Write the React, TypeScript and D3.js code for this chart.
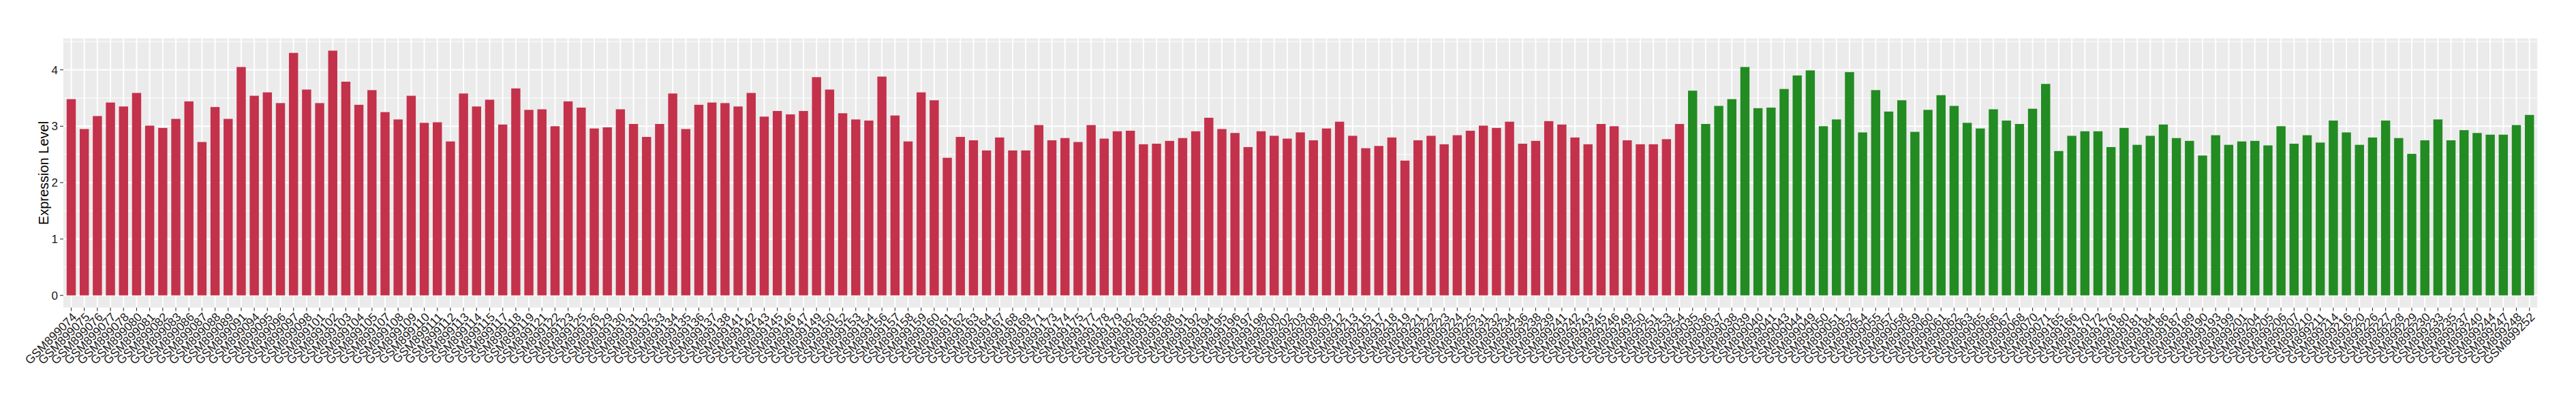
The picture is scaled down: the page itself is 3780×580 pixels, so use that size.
import React from "react";
import * as d3 from "d3";

const redSamples = [
  "GSM899074","GSM899075","GSM899076","GSM899077","GSM899078","GSM899080","GSM899081","GSM899082","GSM899083","GSM899086","GSM899087","GSM899088","GSM899089","GSM899091","GSM899094","GSM899095","GSM899096","GSM899097","GSM899098",
  "GSM899101","GSM899102","GSM899103","GSM899104","GSM899105","GSM899107","GSM899108","GSM899109","GSM899110","GSM899111","GSM899112","GSM899113","GSM899114","GSM899115","GSM899117","GSM899118","GSM899119","GSM899121","GSM899122","GSM899123",
  "GSM899125","GSM899126","GSM899129","GSM899130","GSM899131","GSM899132","GSM899133","GSM899134","GSM899135","GSM899136","GSM899137","GSM899138","GSM899141","GSM899142","GSM899143","GSM899145","GSM899146","GSM899147","GSM899149","GSM899150",
  "GSM899152","GSM899153","GSM899154","GSM899156","GSM899157","GSM899158","GSM899159","GSM899160","GSM899161","GSM899162","GSM899163","GSM899164","GSM899167","GSM899168","GSM899169","GSM899171","GSM899173","GSM899174","GSM899175",
  "GSM899177","GSM899178","GSM899179","GSM899182","GSM899183","GSM899185","GSM899188","GSM899191","GSM899192","GSM899194","GSM899195","GSM899196","GSM899197","GSM899198","GSM899200","GSM899202","GSM899203","GSM899208","GSM899209","GSM899212",
  "GSM899213","GSM899215","GSM899217","GSM899218","GSM899219","GSM899221","GSM899222","GSM899223","GSM899224","GSM899225","GSM899231","GSM899232","GSM899234","GSM899236","GSM899238","GSM899239","GSM899241","GSM899242","GSM899243",
  "GSM899245","GSM899246","GSM899249","GSM899250","GSM899251","GSM899253","GSM899254"
];
const redValues = [
  3.48,2.95,3.18,3.42,3.35,3.59,3.01,2.97,3.13,3.44,2.72,3.34,3.13,4.05,3.54,3.60,3.41,4.30,3.65,
  3.41,4.34,3.79,3.38,3.64,3.25,3.12,3.54,3.06,3.07,2.73,3.58,3.35,3.47,3.03,3.67,3.29,3.30,3.00,3.44,
  3.33,2.96,2.98,3.30,3.04,2.81,3.04,3.58,2.95,3.38,3.42,3.41,3.35,3.59,3.17,3.27,3.21,3.27,3.87,3.65,
  3.23,3.12,3.10,3.88,3.19,2.73,3.60,3.46,2.44,2.81,2.75,2.57,2.80,2.57,2.57,3.02,2.75,2.79,2.72,
  3.02,2.78,2.91,2.92,2.68,2.69,2.74,2.79,2.91,3.15,2.95,2.88,2.63,2.91,2.83,2.78,2.89,2.75,2.96,3.08,
  2.83,2.61,2.65,2.80,2.39,2.75,2.83,2.68,2.84,2.92,3.01,2.97,3.08,2.69,2.74,3.09,3.03,2.80,2.68,
  3.04,3.00,2.75,2.68,2.68,2.77,3.04
];
const greenSamples = [
  "GSM899035","GSM899036","GSM899037","GSM899038","GSM899039","GSM899040","GSM899041","GSM899043","GSM899044","GSM899049","GSM899050","GSM899051","GSM899052","GSM899054","GSM899055","GSM899057","GSM899058","GSM899059","GSM899060","GSM899061","GSM899062","GSM899063","GSM899065","GSM899066","GSM899067","GSM899068","GSM899070","GSM899071",
  "GSM899165","GSM899166","GSM899170","GSM899172","GSM899176","GSM899180","GSM899181","GSM899184","GSM899186","GSM899187","GSM899189","GSM899190","GSM899193","GSM899199","GSM899201","GSM899204","GSM899205","GSM899206","GSM899207","GSM899210","GSM899211","GSM899214","GSM899216","GSM899220","GSM899226","GSM899227","GSM899228","GSM899229","GSM899230","GSM899233","GSM899235","GSM899237","GSM899240","GSM899244","GSM899247","GSM899248","GSM899252"
];
const greenValues = [
  3.63,3.04,3.36,3.48,4.05,3.32,3.33,3.66,3.90,3.99,3.00,3.12,3.96,2.89,3.64,3.26,3.46,2.90,3.29,3.55,3.36,3.06,2.96,3.30,3.10,3.04,3.31,3.75,
  2.56,2.83,2.91,2.91,2.63,2.97,2.67,2.83,3.03,2.79,2.74,2.48,2.84,2.67,2.73,2.74,2.66,3.00,2.69,2.84,2.71,3.10,2.89,2.67,2.80,3.10,2.79,2.51,2.75,3.12,2.75,2.93,2.88,2.85,2.85,3.02,3.20
];
const yTicks = [0, 1, 2, 3, 4];
const yMinor = [0.5, 1.5, 2.5, 3.5, 4.5];

const RED = "#C4314B";
const GREEN = "#228B22";

export default function App() {
  const W = 3780, H = 580;
  const left = 93, right = 3723.2, top = 56.4, bottom = 451.7;
  const data = [
    ...redSamples.map((s, i) => ({ s, v: redValues[i], c: RED })),
    ...greenSamples.map((s, i) => ({ s, v: greenValues[i], c: GREEN })),
  ];
  const x = d3.scaleBand<string>().domain(data.map(d => d.s)).range([left, right]).paddingInner(0.3).paddingOuter(0.25);
  const maxV = d3.max(data, d => d.v) as number;
  const y = d3.scaleLinear().domain([-0.05 * maxV, maxV * 1.05]).range([bottom, top]);
  const font = "'Liberation Sans', Arial, Helvetica, sans-serif";
  const bw = x.bandwidth();
  return (
    <svg width={W} height={H} style={{ position: "absolute", left: 0, top: 0, background: "white" }} fontFamily={font}>
      <rect x={left} y={top} width={right - left} height={bottom - top} fill="#EBEBEB" />
      {yMinor.filter(t => y(t) >= top).map(t => (
        <line key={"mi" + t} x1={left} x2={right} y1={y(t)} y2={y(t)} stroke="white" strokeWidth={1} />
      ))}
      {yTicks.map(t => (
        <line key={"ma" + t} x1={left} x2={right} y1={y(t)} y2={y(t)} stroke="white" strokeWidth={2} />
      ))}
      {data.map(d => {
        const cx = (x(d.s) as number) + bw / 2;
        return <line key={"vx" + d.s} x1={cx} x2={cx} y1={top} y2={bottom} stroke="white" strokeWidth={2} />;
      })}
      {data.map(d => (
        <rect key={"b" + d.s} x={x(d.s) as number} y={y(d.v)} width={bw} height={y(0) - y(d.v)} fill={d.c} />
      ))}
      {yTicks.map(t => (
        <g key={"yt" + t}>
          <line x1={left - 5} x2={left} y1={y(t)} y2={y(t)} stroke="#333333" strokeWidth={1.1} />
          <text x={left - 8} y={y(t)} dy="0.36em" textAnchor="end" fontSize={17} fill="#1a1a1a">{t}</text>
        </g>
      ))}
      {data.map(d => {
        const cx = (x(d.s) as number) + bw / 2;
        return (
          <g key={"xt" + d.s}>
            <line x1={cx} x2={cx} y1={bottom} y2={bottom + 5} stroke="#333333" strokeWidth={1.1} />
            <text transform={`translate(${cx},${bottom + 6}) rotate(-45)`} textAnchor="end" dy="0.72em" fontSize={17.5} fill="#1a1a1a">{d.s}</text>
          </g>
        );
      })}
      <text transform={`translate(64,${(top + bottom) / 2}) rotate(-90)`} textAnchor="middle" dy="0.36em" fontSize={20} fill="black">Expression Level</text>
    </svg>
  );
}
